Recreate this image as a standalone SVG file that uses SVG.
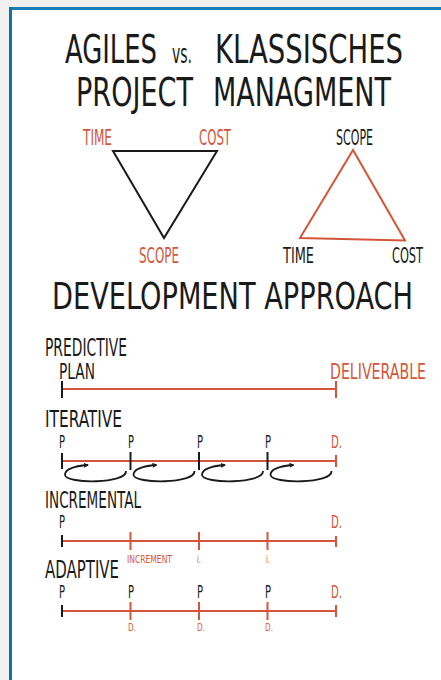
<svg xmlns="http://www.w3.org/2000/svg" width="441" height="680" viewBox="0 0 441 680">
<defs>
<style>
text{font-family:"Liberation Sans Narrow","DejaVu Sans Condensed","Liberation Sans",sans-serif;}
.k{fill:#1a1a1a}
.r{fill:#d4563a}
.ln{stroke:#d4563a;stroke-width:2;fill:none}
.tk{stroke:#1a1a1a;stroke-width:2;fill:none}
.tr{stroke:#d4563a;stroke-width:2;fill:none}
.loop{stroke:#1a1a1a;stroke-width:1.8;fill:none;marker-end:url(#ah)}
</style>
<marker id="ah" viewBox="0 0 10 10" refX="8" refY="5" markerWidth="5" markerHeight="5" orient="auto" markerUnits="userSpaceOnUse">
<path d="M0,0 L10,5 L0,10 z" fill="#1a1a1a"/>
</marker>
</defs>
<rect x="0" y="0" width="441" height="680" fill="#f0f0f0"/>
<rect x="10" y="8" width="431" height="672" fill="#ffffff"/>
<rect x="10" y="7" width="431" height="3" fill="#1b7db3"/>
<rect x="9" y="7" width="3" height="673" fill="#0f72a8"/>

<g id="title" class="k">
<text x="65" y="63" font-size="39" textLength="92" lengthAdjust="spacingAndGlyphs">AGILES</text>
<text x="172" y="63" font-size="26" textLength="20" lengthAdjust="spacingAndGlyphs">vs.</text>
<text x="215" y="63" font-size="39" textLength="188" lengthAdjust="spacingAndGlyphs">KLASSISCHES</text>
<text x="76" y="106" font-size="39" textLength="117" lengthAdjust="spacingAndGlyphs">PROJECT</text>
<text x="213" y="106" font-size="39" textLength="178" lengthAdjust="spacingAndGlyphs">MANAGMENT</text>
</g>

<g id="triangle-agile">
<polygon points="113,151 217,151 164,238" fill="none" stroke="#1a1a1a" stroke-width="2"/>
<text class="r" x="83" y="145" font-size="21" textLength="29" lengthAdjust="spacingAndGlyphs">TIME</text>
<text class="r" x="199" y="145" font-size="21" textLength="32" lengthAdjust="spacingAndGlyphs">COST</text>
<text class="r" x="139" y="262.5" font-size="21" textLength="40" lengthAdjust="spacingAndGlyphs">SCOPE</text>
</g>

<g id="triangle-classic">
<polygon points="353,150 300,238 405,240.5" fill="none" stroke="#d4563a" stroke-width="2"/>
<text class="k" x="336" y="145" font-size="21" textLength="37" lengthAdjust="spacingAndGlyphs">SCOPE</text>
<text class="k" x="283" y="262.5" font-size="21" textLength="31" lengthAdjust="spacingAndGlyphs">TIME</text>
<text class="k" x="392" y="262.5" font-size="21" textLength="31" lengthAdjust="spacingAndGlyphs">COST</text>
</g>

<g id="heading" class="k">
<text x="52" y="309" font-size="38" textLength="361" lengthAdjust="spacingAndGlyphs">DEVELOPMENT APPROACH</text>
</g>

<g id="predictive">
<text class="k" x="45" y="356" font-size="25" textLength="82" lengthAdjust="spacingAndGlyphs">PREDICTIVE</text>
<text class="k" x="59" y="379" font-size="21" textLength="36" lengthAdjust="spacingAndGlyphs">PLAN</text>
<text class="r" x="330" y="379" font-size="21" textLength="96" lengthAdjust="spacingAndGlyphs">DELIVERABLE</text>
</g>

<g id="iterative">
<text class="k" x="45" y="426.5" font-size="23" textLength="77" lengthAdjust="spacingAndGlyphs">ITERATIVE</text>
<text class="k" x="59" y="448" font-size="18" textLength="6" lengthAdjust="spacingAndGlyphs">P</text>
<text class="k" x="128" y="448" font-size="18" textLength="6" lengthAdjust="spacingAndGlyphs">P</text>
<text class="k" x="197" y="448" font-size="18" textLength="6" lengthAdjust="spacingAndGlyphs">P</text>
<text class="k" x="265" y="448" font-size="18" textLength="6" lengthAdjust="spacingAndGlyphs">P</text>
<text class="r" x="331" y="448" font-size="18" textLength="11" lengthAdjust="spacingAndGlyphs">D.</text>
</g>

<g id="incremental">
<text class="k" x="45" y="508" font-size="23" textLength="96" lengthAdjust="spacingAndGlyphs">INCREMENTAL</text>
<text class="k" x="59" y="528" font-size="17" textLength="6" lengthAdjust="spacingAndGlyphs">P</text>
<text class="r" x="331" y="528" font-size="17" textLength="11" lengthAdjust="spacingAndGlyphs">D.</text>
<text class="r" x="127" y="562.5" font-size="11" textLength="45" lengthAdjust="spacingAndGlyphs">INCREMENT</text>
<text class="r" x="197" y="562.5" font-size="11" textLength="4" lengthAdjust="spacingAndGlyphs">i.</text>
<text class="r" x="266" y="562.5" font-size="11" textLength="4" lengthAdjust="spacingAndGlyphs">i.</text>
</g>

<g id="adaptive">
<text class="k" x="45" y="577.5" font-size="24" textLength="74" lengthAdjust="spacingAndGlyphs">ADAPTIVE</text>
<text class="k" x="59" y="598" font-size="18" textLength="6" lengthAdjust="spacingAndGlyphs">P</text>
<text class="k" x="128" y="598" font-size="18" textLength="6" lengthAdjust="spacingAndGlyphs">P</text>
<text class="k" x="197" y="598" font-size="18" textLength="6" lengthAdjust="spacingAndGlyphs">P</text>
<text class="k" x="265" y="598" font-size="18" textLength="6" lengthAdjust="spacingAndGlyphs">P</text>
<text class="r" x="331" y="598" font-size="18" textLength="11" lengthAdjust="spacingAndGlyphs">D.</text>
<text class="r" x="128" y="630.5" font-size="10" textLength="8" lengthAdjust="spacingAndGlyphs">D.</text>
<text class="r" x="197" y="630.5" font-size="10" textLength="8" lengthAdjust="spacingAndGlyphs">D.</text>
<text class="r" x="265" y="630.5" font-size="10" textLength="8" lengthAdjust="spacingAndGlyphs">D.</text>
</g>

<g id="connectors">
<!-- predictive -->
<line class="ln" x1="62" y1="389" x2="336" y2="389"/>
<line class="tk" x1="62" y1="381" x2="62" y2="398"/>
<line class="tr" x1="336" y1="381" x2="336" y2="398"/>
<!-- iterative -->
<line class="ln" x1="62" y1="461" x2="336" y2="461"/>
<line class="tk" x1="62" y1="453" x2="62" y2="469"/>
<line class="tk" x1="130.5" y1="452" x2="130.5" y2="470"/>
<line class="tk" x1="199" y1="452" x2="199" y2="470"/>
<line class="tk" x1="267.5" y1="452" x2="267.5" y2="470"/>
<line class="tr" x1="336" y1="455" x2="336" y2="467"/>
<path class="loop" d="M126,471 C127,484 66,484 65,475 C65,469 75,466 88,465"/>
<path class="loop" d="M194.5,471 C195.5,484 134.5,484 133.5,475 C133.5,469 143.5,466 156.5,465"/>
<path class="loop" d="M263,471 C264,484 203,484 202,475 C202,469 212,466 225,465"/>
<path class="loop" d="M331.5,471 C332.5,484 271.5,484 270.5,475 C270.5,469 280.5,466 293.5,465"/>
<!-- incremental -->
<line class="ln" x1="62" y1="541" x2="336" y2="541"/>
<line class="tk" x1="62" y1="535" x2="62" y2="547"/>
<line class="tr" x1="130.5" y1="532" x2="130.5" y2="550"/>
<line class="tr" x1="199" y1="532" x2="199" y2="550"/>
<line class="tr" x1="267.5" y1="532" x2="267.5" y2="550"/>
<line class="tr" x1="336" y1="536" x2="336" y2="547"/>
<!-- adaptive -->
<line class="ln" x1="62" y1="611" x2="336" y2="611"/>
<line class="tk" x1="62" y1="605" x2="62" y2="617"/>
<line class="tr" x1="130.5" y1="602" x2="130.5" y2="620"/>
<line class="tr" x1="199" y1="602" x2="199" y2="620"/>
<line class="tr" x1="267.5" y1="602" x2="267.5" y2="620"/>
<line class="tr" x1="336" y1="605" x2="336" y2="617"/>
</g>
</svg>
